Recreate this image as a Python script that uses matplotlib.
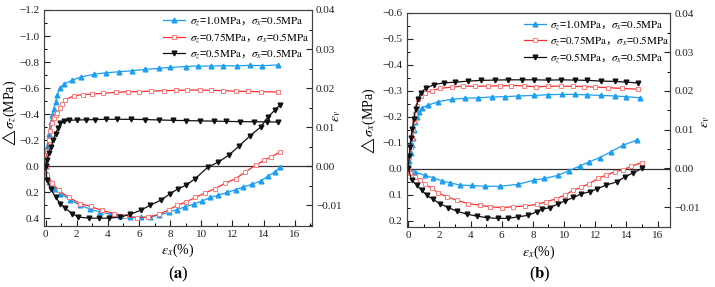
import matplotlib
matplotlib.use('Agg')
import matplotlib.pyplot as plt
from matplotlib.ticker import MultipleLocator, FuncFormatter

plt.rcParams['font.family'] = ['Liberation Serif', 'DejaVu Serif']
plt.rcParams['mathtext.fontset'] = 'stix'
plt.rcParams['axes.unicode_minus'] = True

labels = [r'$\sigma_z$=$\mathrm{1.0MPa}$，$\sigma_x$=$\mathrm{0.5MPa}$',
          r'$\sigma_z$=$\mathrm{0.75MPa}$，$\sigma_x$=$\mathrm{0.5MPa}$',
          r'$\sigma_z$=$\mathrm{0.5MPa}$，$\sigma_x$=$\mathrm{0.5MPa}$']

# ---------------- panel (a): delta sigma_z (left axis) ----------------
a_blue_x = [0, 0.1, 0.2, 0.32, 0.43, 0.53, 0.64, 0.75, 0.9, 1.17, 1.7, 2.3, 3.1, 3.9, 4.7, 5.55,
            6.4, 7.26, 8.0, 9.0, 9.8, 10.6, 11.4, 12.3, 13.1, 13.9, 14.9]
a_blue_s = [0, -0.15, -0.25, -0.34, -0.39, -0.44, -0.49, -0.546, -0.6, -0.63, -0.66, -0.687, -0.705,
            -0.718, -0.725, -0.733, -0.744, -0.751, -0.759, -0.765, -0.77, -0.768, -0.772, -0.77,
            -0.775, -0.772, -0.777]
a_red_x = [0, 0.05, 0.1, 0.2, 0.3, 0.43, 0.55, 0.65, 0.75, 0.9, 1.07, 1.28, 1.8, 2.4, 3.0, 3.7, 4.5,
           5.3, 6.0, 6.8, 7.6, 8.4, 9.1, 9.9, 10.6, 11.4, 12.2, 13.0, 13.8, 14.9]
a_red_s = [0, -0.06, -0.12, -0.2, -0.27, -0.33, -0.37, -0.39, -0.405, -0.45, -0.48, -0.51, -0.54,
           -0.55, -0.554, -0.56, -0.567, -0.572, -0.572, -0.577, -0.58, -0.582, -0.585, -0.585,
           -0.583, -0.58, -0.576, -0.574, -0.572, -0.57]
a_black_x = [0, 0.1, 0.21, 0.36, 0.49, 0.64, 0.79, 0.96, 1.2, 1.5, 2.0, 2.6, 3.2, 3.9, 4.6, 5.5,
             6.4, 7.3, 8.2, 9.0, 9.9, 10.8, 11.6, 12.5, 13.4, 14.2, 14.9]
a_black_s = [0, -0.046, -0.1, -0.15, -0.2, -0.25, -0.29, -0.328, -0.345, -0.352, -0.355, -0.356,
             -0.358, -0.36, -0.36, -0.36, -0.358, -0.355, -0.352, -0.35, -0.348, -0.346, -0.344,
             -0.342, -0.341, -0.34, -0.339]

# ---------------- panel (a): volumetric strain (right axis) ----------------
a_blue_ex = [0, 0.1, 0.21, 0.53, 0.96, 1.6, 2.24, 2.88, 3.5, 4.17, 4.8, 5.45, 6.1, 6.7, 7.3, 7.9,
             8.44, 8.97, 9.5, 10.04, 10.58, 11.1, 11.65, 12.2, 12.7, 13.25, 13.8, 14.3, 14.7, 15.05]
a_blue_ev = [0, -0.0020, -0.0040, -0.0057, -0.0070, -0.0087, -0.0100, -0.0110, -0.0117, -0.0123,
             -0.0128, -0.0130, -0.0131, -0.0130, -0.0125, -0.0118, -0.0111, -0.0104, -0.0097,
             -0.0089, -0.0080, -0.0074, -0.0067, -0.0060, -0.0053, -0.0046, -0.0038, -0.0025,
             -0.0015, -0.0003]
a_red_ex = [0, 0.1, 0.43, 0.85, 1.5, 2.24, 2.9, 3.6, 4.4, 5.1, 5.9, 6.6, 7.3, 7.9, 8.44, 9.0, 9.6,
            10.26, 10.9, 11.5, 12.2, 12.8, 13.5, 14.0, 14.5, 15.05]
a_red_ev = [0, -0.0023, -0.0043, -0.0062, -0.0080, -0.0096, -0.0103, -0.0113, -0.0121, -0.0128,
            -0.0132, -0.0130, -0.0123, -0.0112, -0.0100, -0.0092, -0.0080, -0.0068, -0.0057,
            -0.0044, -0.0032, -0.0015, 0.0003, 0.0015, 0.0024, 0.0037]
a_black_ex = [0, 0.1, 0.32, 0.64, 0.96, 1.28, 1.7, 2.1, 2.8, 3.4, 4.06, 4.8, 5.45, 6.1, 6.7, 7.4,
              8.0, 8.5, 9.0, 9.6, 10.4, 11.1, 11.75, 12.4, 13.1, 13.8, 14.3, 14.7, 15.05]
a_black_ev = [0, -0.0036, -0.0057, -0.0079, -0.0096, -0.0108, -0.0121, -0.0130, -0.0133, -0.0133,
              -0.0133, -0.0130, -0.0123, -0.0113, -0.0100, -0.0087, -0.0070, -0.0058, -0.0049,
              -0.0032, -0.0003, 0.0011, 0.0028, 0.0051, 0.0077, 0.0100, 0.0127, 0.0143, 0.0157]

# ---------------- panel (b): delta sigma_x (left axis) ----------------
b_blue_x = [0, 0.06, 0.15, 0.22, 0.28, 0.34, 0.43, 0.55, 0.7, 0.9, 1.24, 1.92, 2.78, 3.64, 4.5,
            5.35, 6.2, 7.06, 8.1, 9.0, 9.84, 10.7, 11.5, 12.4, 13.25, 14.0, 14.86]
b_blue_s = [0, -0.03, -0.06, -0.09, -0.12, -0.15, -0.178, -0.2, -0.22, -0.235, -0.244, -0.258,
            -0.267, -0.271, -0.273, -0.276, -0.277, -0.28, -0.282, -0.285, -0.286, -0.286, -0.284,
            -0.282, -0.28, -0.277, -0.273]
b_red_x = [0, 0.06, 0.15, 0.22, 0.28, 0.37, 0.43, 0.54, 0.64, 0.81, 1.07, 1.5, 2.03, 2.78, 3.5,
           4.27, 5.1, 5.9, 6.6, 7.4, 8.2, 9.0, 9.8, 10.6, 11.3, 12.0, 12.8, 13.7, 14.75]
b_red_s = [0, -0.044, -0.082, -0.12, -0.153, -0.184, -0.21, -0.24, -0.267, -0.28, -0.292, -0.30,
           -0.309, -0.314, -0.318, -0.317, -0.318, -0.319, -0.32, -0.319, -0.315, -0.317, -0.318,
           -0.317, -0.316, -0.314, -0.312, -0.309, -0.306]
b_black_x = [0, 0.06, 0.11, 0.17, 0.26, 0.37, 0.47, 0.64, 0.8, 1.12, 1.65, 2.3, 3.0, 3.85, 4.7,
             5.56, 6.4, 7.27, 8.1, 9.0, 9.8, 10.7, 11.5, 12.4, 13.25, 14.0, 14.75]
b_black_s = [0, -0.05, -0.082, -0.12, -0.153, -0.19, -0.23, -0.267, -0.292, -0.309, -0.324, -0.33,
             -0.333, -0.337, -0.34, -0.341, -0.342, -0.342, -0.342, -0.341, -0.342, -0.341, -0.34,
             -0.337, -0.336, -0.333, -0.33]

# ---------------- panel (b): volumetric strain (right axis) ----------------
b_blue_ex = [0, 0.43, 1.07, 1.6, 2.14, 2.67, 3.3, 4.07, 4.9, 5.9, 7.06, 8.1, 8.74, 9.6, 10.3,
             11.0, 11.6, 12.3, 13.0, 13.8, 14.7]
b_blue_ev = [0, -0.0009, -0.0018, -0.0024, -0.0032, -0.0037, -0.0043, -0.0044, -0.0046, -0.0046,
             -0.0041, -0.0030, -0.0026, -0.0018, -0.0006, 0.0006, 0.0017, 0.0028, 0.0043, 0.0060,
             0.0074]
b_red_ex = [0, 0.11, 0.43, 0.75, 1.07, 1.5, 1.92, 2.46, 3.1, 3.85, 4.6, 5.24, 6.0, 6.74, 7.5, 8.24,
            8.87, 9.5, 10.05, 10.6, 11.1, 11.6, 12.2, 12.7, 13.25, 13.8, 14.3, 14.97]
b_red_ev = [0, -0.0013, -0.0022, -0.0030, -0.0041, -0.0051, -0.0063, -0.0073, -0.0082, -0.0091,
            -0.0095, -0.0099, -0.0101, -0.0099, -0.0097, -0.0093, -0.0086, -0.0078, -0.0069,
            -0.0056, -0.0049, -0.0039, -0.0026, -0.0017, -0.0009, -0.0003, 0.0005, 0.0015]
b_black_ex = [0, 0.22, 0.54, 0.86, 1.18, 1.6, 2.03, 2.57, 3.1, 3.75, 4.39, 5.03, 5.77, 6.4, 7.06,
              7.7, 8.24, 8.56, 9.1, 9.6, 10.05, 10.6, 11.1, 11.65, 12.1, 12.7, 13.37, 13.9, 14.4,
              15.0]
b_black_ev = [0, -0.0030, -0.0043, -0.0056, -0.0069, -0.0080, -0.0091, -0.0101, -0.0110, -0.0118,
              -0.0123, -0.0127, -0.0129, -0.0129, -0.0125, -0.0121, -0.0112, -0.0106, -0.0101,
              -0.0092, -0.0084, -0.0075, -0.0066, -0.0060, -0.0053, -0.0043, -0.0035, -0.0022,
              -0.0012, 0.0]

styles = [
    dict(color='#1c9ff0', marker='^', ms=3.4, mfc='#1c9ff0', mec='#1c9ff0', lw=0.9),
    dict(color='#ff2d2d', marker='s', ms=3.1, mfc='white', mec='#ff7a7a', mew=0.7, lw=0.9),
    dict(color='#111111', marker='v', ms=3.4, mfc='#111111', mec='#111111', lw=0.9),
]


def fmt(decimals):
    def f(v, pos):
        s = f'{v:.{decimals}f}'
        if float(s) == 0:
            s = f'{0:.{decimals}f}'
        return s.replace('-', '\u2212')
    return FuncFormatter(f)


def draw(ax, sig, ev, ylim, ymaj, ymin, ylim2, xlim, ylabel, ylab_xy, evlab_xy):
    ax2 = ax.twinx()
    handles = []
    for (x, y), st, lab in zip(sig, styles, labels):
        h, = ax.plot(x, y, label=lab, **st)
        handles.append(h)
    for (x, e), st in zip(ev, styles):
        ax2.plot(x, e, **st)
    ax.axhline(0, color='#333333', lw=0.9, zorder=1)
    ax.set_xlim(*xlim)
    ax.set_ylim(*ylim)
    ax2.set_ylim(*ylim2)
    ax.xaxis.set_major_locator(MultipleLocator(2))
    ax.xaxis.set_minor_locator(MultipleLocator(1))
    ax.yaxis.set_major_locator(MultipleLocator(ymaj))
    ax.yaxis.set_minor_locator(MultipleLocator(ymin))
    ax.yaxis.set_major_formatter(fmt(1))
    ax.xaxis.set_major_formatter(FuncFormatter(lambda v, p: f'{v:.0f}'))
    ax2.yaxis.set_major_locator(MultipleLocator(0.01))
    ax2.yaxis.set_minor_locator(MultipleLocator(0.005))
    ax2.yaxis.set_major_formatter(fmt(2))
    for a in (ax, ax2):
        a.tick_params(which='major', direction='in', length=4, width=0.8, labelsize=8,
                      colors='#222222', pad=3)
        a.tick_params(which='minor', direction='in', length=2, width=0.7)
        for sp in a.spines.values():
            sp.set_linewidth(0.8)
            sp.set_color('#444444')
    ax.tick_params(which='both', top=False, right=False)
    ax.set_ylabel(ylabel, fontsize=10)
    ax.yaxis.label.set(va='center', ha='center')
    ax.yaxis.set_label_coords(*ylab_xy)
    ax.set_xlabel(r'$\varepsilon_x$(%)', fontsize=10, labelpad=2)
    ax2.set_ylabel(r'$\varepsilon_v$', fontsize=10)
    ax2.yaxis.label.set(va='center', ha='center')
    ax2.yaxis.set_label_coords(*evlab_xy)
    return ax2, handles


fig = plt.figure(figsize=(7.15, 2.87), dpi=100)
axa = fig.add_axes([0.0615, 0.2125, 0.3748, 0.7527])
axb = fig.add_axes([0.5688, 0.208, 0.3683, 0.7477])

a2, ha = draw(axa,
              [(a_blue_x, a_blue_s), (a_red_x, a_red_s), (a_black_x, a_black_s)],
              [(a_blue_ex, a_blue_ev), (a_red_ex, a_red_ev), (a_black_ex, a_black_ev)],
              (0.46, -1.2), 0.2, 0.1, (-0.0153, 0.04), (-0.1, 17.1),
              r'$\triangle\sigma_z$(MPa)', (-0.128, 0.52), (1.093, 0.51))
b2, hb = draw(axb,
              [(b_blue_x, b_blue_s), (b_red_x, b_red_s), (b_black_x, b_black_s)],
              [(b_blue_ex, b_blue_ev), (b_red_ex, b_red_ev), (b_black_ex, b_black_ev)],
              (0.225, -0.6), 0.1, 0.05, (-0.0152, 0.0402), (-0.1, 16.8),
              r'$\triangle\sigma_x$(MPa)', (-0.142, 0.49), (1.133, 0.49))

legfont = dict(family=['Noto Sans CJK SC', 'DejaVu Sans'], size=8)
for ax2, hs, anchor in ((a2, ha, (1.005, 1.0)), (b2, hb, (1.015, 0.995))):
    ax2.legend(hs, labels, loc='upper right', bbox_to_anchor=anchor, frameon=False,
               prop=legfont, handlelength=2.0, handletextpad=0.4, labelspacing=0.2,
               borderaxespad=0.2, borderpad=0.2)

fig.text(0.249, 0.03, r'($\mathbf{a}$)', ha='center', fontsize=12)
fig.text(0.755, 0.03, r'($\mathbf{b}$)', ha='center', fontsize=12)

fig.savefig('out.png', dpi=100)
